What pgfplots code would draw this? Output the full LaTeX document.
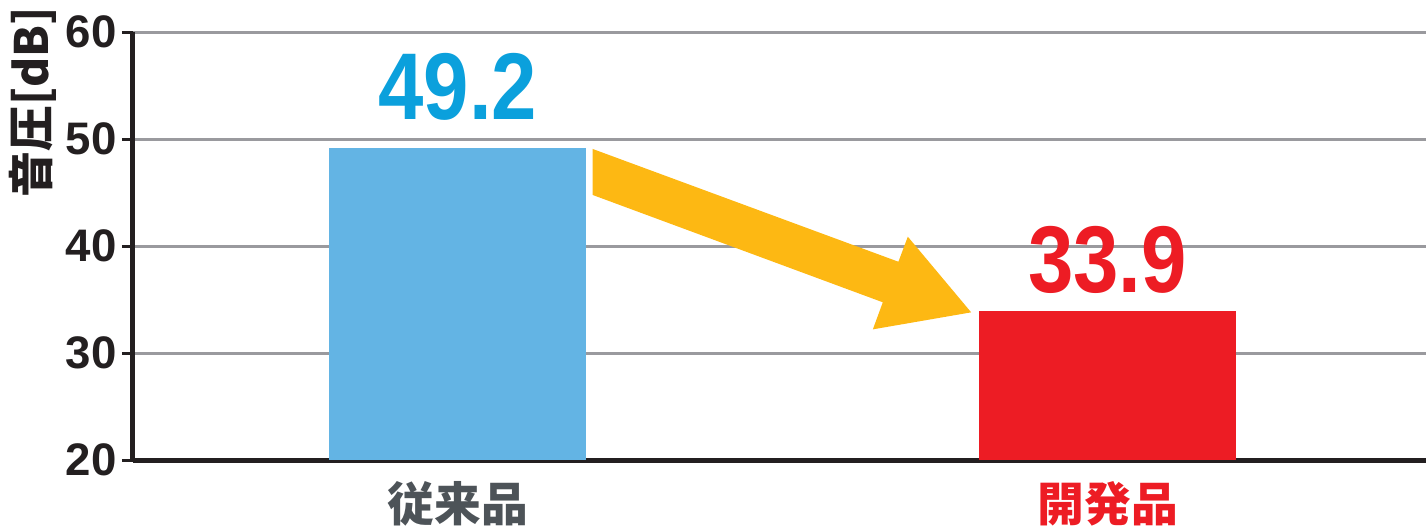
\documentclass[border=0pt]{standalone}
\usepackage{fontspec}
\setmainfont{Liberation Sans}
\newfontfamily\cjk{Noto Sans CJK JP}
\usepackage{graphicx}
\usepackage{pgfplots}
\pgfplotsset{compat=1.18}

\definecolor{barblue}{HTML}{63B4E4}
\definecolor{barred}{HTML}{ED1C24}
\definecolor{valblue}{HTML}{0BA0DC}
\definecolor{arrowyel}{HTML}{FDB813}
\definecolor{labgray}{HTML}{4D5358}
\definecolor{gridgray}{HTML}{9A9A9E}
\definecolor{axisblack}{HTML}{231F20}

\begin{document}
\begin{tikzpicture}
\begin{axis}[
    scale only axis,
    width=323.25pt, height=107pt,
    xmin=-0.5, xmax=1.49,
    ymin=20, ymax=60,
    ybar, bar width=64.25pt, bar shift=0pt,
    axis x line*=bottom, axis y line*=left,
    axis line style={line width=1.25pt, axisblack},
    ytick={20,30,40,50,60},
    ymajorgrids,
    grid style={line width=0.75pt, gridgray},
    tick align=outside,
    major tick length=2.75pt,
    ytick style={line width=0.75pt, axisblack},
    xtick={0,1},
    xticklabels={{\color{labgray}従来品},{\color{barred}開発品}},
    xtick style={draw=none},
    xticklabel style={font=\cjk\bfseries\fontsize{11.7}{13}\selectfont, yshift=0.8pt},
    yticklabel style={font=\bfseries\fontsize{11.4}{13}\selectfont, text=axisblack,
        inner sep=1.2pt},
    /pgf/number format/assume math mode=true,
    ylabel={音圧[dB]},
    ylabel style={font=\cjk\bfseries\fontsize{11.5}{12}\selectfont, text=axisblack,
        at={(axis description cs:-0.0773,0.836)}, anchor=center},
]
\addplot[fill=barblue, draw=none] coordinates {(0,49.2)};
\addplot[fill=barred, draw=none] coordinates {(1,33.9)};

% down arrow from the old product to the new one
\fill[arrowyel] (axis cs:0.2075,49.07) -- (axis cs:0.678,38.53)
    -- (axis cs:0.6925,40.87) -- (axis cs:0.790,33.8)
    -- (axis cs:0.6387,32.21) -- (axis cs:0.654,34.74)
    -- (axis cs:0.2075,44.77) -- cycle;

\node[anchor=base, text=valblue, font=\bfseries\fontsize{23.7}{24}\selectfont]
    at (axis cs:0,51.78) {\scalebox{0.86}[1]{49.2}};
\node[anchor=base, text=barred, font=\bfseries\fontsize{23.7}{24}\selectfont]
    at (axis cs:1,35.61) {\scalebox{0.86}[1]{33.9}};
\end{axis}
\pgfresetboundingbox
\path[use as bounding box] (-33.25pt,-16.5pt) rectangle (323.25pt,115pt);
\end{tikzpicture}
\end{document}
